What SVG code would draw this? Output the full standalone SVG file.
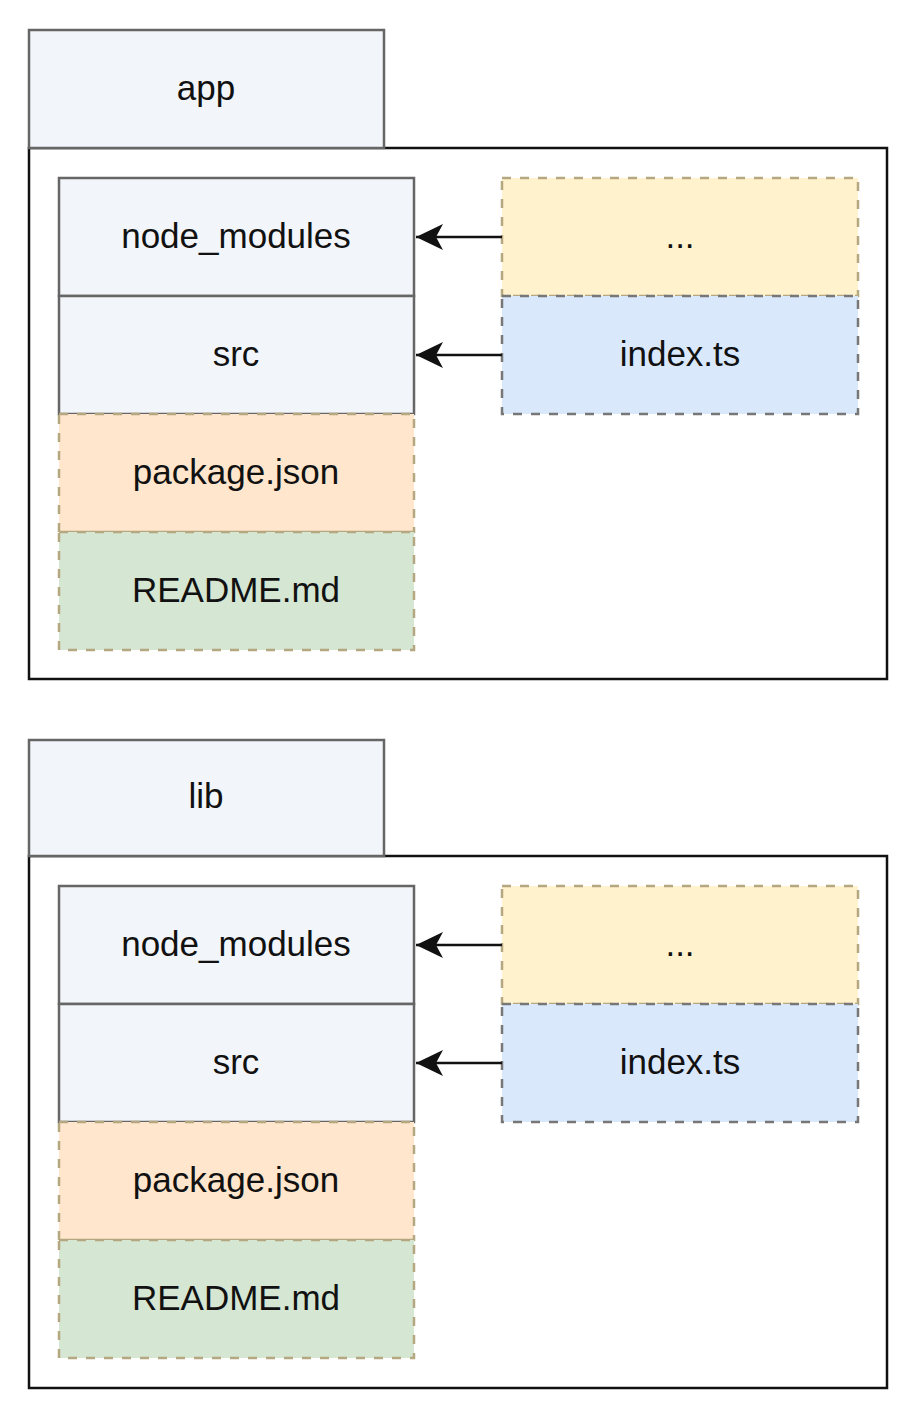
<svg xmlns="http://www.w3.org/2000/svg" width="916" height="1418" viewBox="0 0 916 1418">
<style>
text{font-family:"Liberation Sans",Arial,sans-serif;font-size:35px;fill:#111;text-anchor:middle}
.tab{fill:#f2f5f9;stroke:#666;stroke-width:2.5}
.outer{fill:#fff;stroke:#111;stroke-width:2.5}
.dir{fill:#f2f5f9;stroke:#666;stroke-width:2.5}
.pkg{fill:#ffe6cc;stroke:#b5a880;stroke-width:2.5;stroke-dasharray:9 9}
.readme{fill:#d5e6d3;stroke:#b5a880;stroke-width:2.5;stroke-dasharray:9 9}
.etc{fill:#fff2cc;stroke:#b5a880;stroke-width:2.5;stroke-dasharray:9 9}
.idx{fill:#dae8fc;stroke:#777;stroke-width:2.5;stroke-dasharray:9 9}
.edge{stroke:#111;stroke-width:2.5;fill:none}
</style>
<defs>
<marker id="arr" markerUnits="userSpaceOnUse" markerWidth="30" markerHeight="30" refX="27" refY="13" orient="auto" viewBox="0 0 30 26">
<path d="M27,13 L0,0 L7,13 L0,26 Z" fill="#111"/>
</marker>
</defs>
<rect width="916" height="1418" fill="#fff"/>
<g id="package-app">
<g id="app-outer"><rect class="outer" x="29" y="148" width="858" height="531"/></g>
<g id="app-tab"><rect class="tab" x="29" y="30" width="355" height="118"/><text x="206" y="100">app</text></g>
<g id="app-node_modules"><rect class="dir" x="59" y="178" width="355" height="118"/><text x="236" y="248">node_modules</text></g>
<g id="app-src"><rect class="dir" x="59" y="296" width="355" height="118"/><text x="236" y="366">src</text></g>
<g id="app-package"><rect class="pkg" x="59" y="414" width="355" height="118"/><text x="236" y="484">package.json</text></g>
<g id="app-readme"><rect class="readme" x="59" y="532" width="355" height="118"/><text x="236" y="602">README.md</text></g>
<g id="app-etc"><rect class="etc" x="502" y="178" width="356" height="118"/><text x="680" y="248">...</text></g>
<g id="app-index"><rect class="idx" x="502" y="296" width="356" height="118"/><text x="680" y="366">index.ts</text></g>
</g>
<g id="package-lib">
<g id="lib-outer"><rect class="outer" x="29" y="856" width="858" height="532"/></g>
<g id="lib-tab"><rect class="tab" x="29" y="740" width="355" height="116"/><text x="206" y="808">lib</text></g>
<g id="lib-node_modules"><rect class="dir" x="59" y="886" width="355" height="118"/><text x="236" y="956">node_modules</text></g>
<g id="lib-src"><rect class="dir" x="59" y="1004" width="355" height="118"/><text x="236" y="1074">src</text></g>
<g id="lib-package"><rect class="pkg" x="59" y="1122" width="355" height="118"/><text x="236" y="1192">package.json</text></g>
<g id="lib-readme"><rect class="readme" x="59" y="1240" width="355" height="118"/><text x="236" y="1310">README.md</text></g>
<g id="lib-etc"><rect class="etc" x="502" y="886" width="356" height="118"/><text x="680" y="956">...</text></g>
<g id="lib-index"><rect class="idx" x="502" y="1004" width="356" height="118"/><text x="680" y="1074">index.ts</text></g>
</g>
<g id="connectors">
<path class="edge" d="M502,237 L416,237" marker-end="url(#arr)"/>
<path class="edge" d="M502,355 L416,355" marker-end="url(#arr)"/>
<path class="edge" d="M502,945 L416,945" marker-end="url(#arr)"/>
<path class="edge" d="M502,1063 L416,1063" marker-end="url(#arr)"/>
</g>
</svg>
